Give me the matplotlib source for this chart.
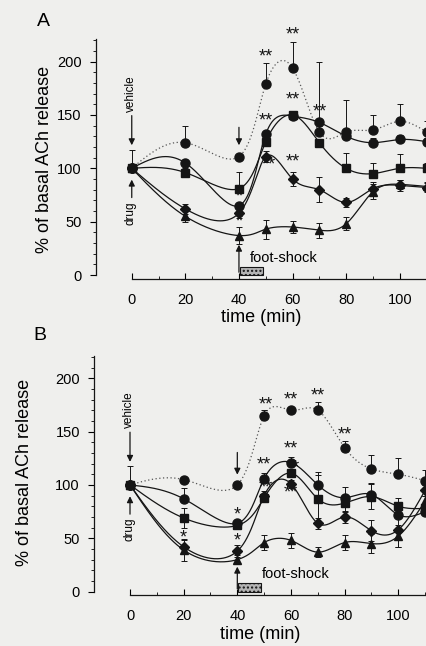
import numpy as np
import matplotlib
matplotlib.use("Agg")
import matplotlib.pyplot as plt
from matplotlib.patches import Rectangle
from matplotlib.ticker import FixedLocator

plt.rcParams["font.family"] = ["Liberation Sans", "DejaVu Sans"]

# sampling times (min)
time = [0, 20, 40, 50, 60, 70, 80, 90, 100, 110]

# panel A
a_veh = [100, 124, 111, 179, 194, 134, 134, 136, 144, 134]
a_circ = [100, 105, 65, 132, 149, 143, 130, 124, 127, 125]
a_sq = [100, 96, 81, 125, 150, 124, 100, 95, 100, 100]
a_dia = [100, 62, 58, 111, 90, 80, 68, 81, 84, 82]
a_tri = [100, 55, 37, 43, 45, 42, 48, 78, 85, 83]

a_veh_err = [17, 16, 0, 20, 24, 6, 30, 14, 16, 10]
a_circ_err = [0, 3, 0, 3, 0, 57, 5, 4, 4, 3]
a_sq_err = [0, 4, 16, 5, 0, 0, 14, 10, 13, 5]
a_dia_err = [0, 5, 5, 5, 7, 12, 4, 6, 5, 4]
a_tri_err = [0, 5, 8, 9, 6, 7, 6, 7, 4, 4]

# panel B
b_veh = [100, 105, 100, 165, 170, 170, 135, 115, 110, 104]
b_circ = [100, 87, 64, 106, 121, 100, 88, 91, 72, 75]
b_sq = [100, 69, 62, 88, 111, 87, 83, 89, 80, 78]
b_dia = [100, 42, 38, 90, 101, 64, 70, 57, 58, 95]
b_tri = [100, 39, 30, 46, 48, 37, 46, 45, 52, 85]

b_veh_err = [18, 0, 0, 5, 0, 8, 6, 13, 15, 10]
b_circ_err = [0, 10, 0, 5, 5, 12, 10, 11, 4, 4]
b_sq_err = [0, 9, 3, 4, 4, 22, 8, 12, 8, 5]
b_dia_err = [0, 6, 6, 4, 4, 5, 6, 10, 16, 5]
b_tri_err = [0, 10, 4, 7, 7, 5, 7, 9, 10, 5]

# significance marks (time, level, text)
a_stars = [(50, 204, "**"), (60, 225, "**"), (60, 164, "**"), (70, 153, "**"),
           (50, 144, "**"), (51, 103, "**"), (60, 106, "**"),
           (40, 73, "*"), (40, 50, "*")]
b_stars = [(50.5, 175, "**"), (60, 180, "**"), (70, 183, "**"), (80, 147, "**"),
           (50, 119, "**"), (60, 134, "**"), (60.5, 116, "**"), (50.5, 97, "**"),
           (60, 92, "**"), (40, 72, "*"), (40, 47, "*"), (20, 50, "*")]

bg = "#efefed"
ink = "#151515"


def nat_spline(t, v, ts):
    t = np.asarray(t, float)
    v = np.asarray(v, float)
    m = len(t)
    h = np.diff(t)
    A = np.zeros((m, m))
    r = np.zeros(m)
    A[0, 0] = A[-1, -1] = 1
    for i in range(1, m - 1):
        A[i, i - 1] = h[i - 1]
        A[i, i] = 2 * (h[i - 1] + h[i])
        A[i, i + 1] = h[i]
        r[i] = 3 * ((v[i + 1] - v[i]) / h[i] - (v[i] - v[i - 1]) / h[i - 1])
    c = np.linalg.solve(A, r)
    b = (v[1:] - v[:-1]) / h - h * (2 * c[:-1] + c[1:]) / 3
    d = (c[1:] - c[:-1]) / (3 * h)
    idx = np.clip(np.searchsorted(t, ts) - 1, 0, m - 2)
    dt = ts - t[idx]
    return v[idx] + b[idx] * dt + c[idx] * dt ** 2 + d[idx] * dt ** 3


def smooth(x, y, n=600):
    # parametric spline through the points, parameter = point index
    t = np.arange(len(x), dtype=float)
    ts = np.linspace(0, t[-1], n)
    return nat_spline(t, x, ts), nat_spline(t, y, ts)


def panel(ax, series, stars, xmax, arr40, shock_txt_x):
    for vals, err, mk, ms, dotted, mode in series:
        xs, ys = smooth(time, vals)
        if dotted:
            ax.plot(xs, ys, ls=(0, (1, 2)), lw=0.9, color="#555555", zorder=2)
        else:
            ax.plot(xs, ys, ls="-", lw=0.9, color=ink, zorder=2)
        yerr = [np.zeros(len(err)), err] if mode == "up" else err
        ax.errorbar(time, vals, yerr=yerr, fmt="none", ecolor=ink, elinewidth=0.7,
                    capsize=2.5, capthick=0.7, zorder=3)
        ax.plot(time, vals, ls="none", marker=mk, ms=ms, color=ink, zorder=4)

    for x, y, t in stars:
        ax.text(x, y, t, ha="center", va="center", fontsize=13, color=ink,
                clip_on=False, zorder=5)

    arrow = dict(arrowstyle="-|>", color=ink, lw=0.9, mutation_scale=9)
    # drug / vehicle arrows at t=0
    ax.annotate("", xy=(0, 119), xytext=(0, 152), arrowprops=arrow)
    ax.text(-0.3, 153, "vehicle", rotation=90, ha="center", va="bottom", fontsize=8.5)
    ax.annotate("", xy=(0, 92), xytext=(0, 70), arrowprops=arrow)
    ax.text(-0.3, 69, "drug", rotation=90, ha="center", va="top", fontsize=8.5)
    # arrows at t=40
    ax.annotate("", xy=(40, arr40[1]), xytext=(40, arr40[0]), arrowprops=arrow)
    ax.annotate("", xy=(40, arr40[2]), xytext=(40, 0), arrowprops=arrow)

    # foot-shock bar
    ax.add_patch(Rectangle((40.4, 0), 8.6, 7.8, facecolor="#b4b4b4", edgecolor=ink,
                           lw=0.8, hatch="....", zorder=3))
    ax.text(shock_txt_x, 12.5, "foot-shock", fontsize=10.5, ha="left", va="baseline")

    ax.set_facecolor(bg)
    ax.set_xlim(-13.6, xmax)
    ax.set_ylim(-5, 222)
    for s in ["top", "right"]:
        ax.spines[s].set_visible(False)
    ax.spines["left"].set_position(("data", -13.5))
    ax.spines["left"].set_bounds(0, 221)
    ax.spines["bottom"].set_position(("data", -3.5))
    ax.spines["bottom"].set_bounds(0, xmax)
    for s in ["left", "bottom"]:
        ax.spines[s].set_linewidth(0.9)
        ax.spines[s].set_color(ink)

    ax.set_yticks([0, 50, 100, 150, 200])
    ax.yaxis.set_minor_locator(FixedLocator(np.arange(10, 221, 10)))
    ax.set_xticks([0, 20, 40, 60, 80, 100])
    ax.xaxis.set_minor_locator(FixedLocator(np.arange(10, 111, 10)))
    ax.tick_params(axis="y", which="major", direction="out", length=4, width=0.8,
                   labelsize=10.5, pad=6)
    ax.tick_params(axis="y", which="minor", direction="out", length=2.5, width=0.6)
    ax.tick_params(axis="x", which="major", direction="in", length=4, width=0.8,
                   labelsize=10.5, pad=10)
    ax.tick_params(axis="x", which="minor", direction="in", length=2.5, width=0.6)
    ax.set_xlabel("time (min)", fontsize=13, labelpad=2)
    ax.set_ylabel("% of basal ACh release", fontsize=13)


fig = plt.figure(figsize=(4.27, 6.46), dpi=100)
fig.patch.set_facecolor(bg)

axA = fig.add_axes([0.2232, 0.566, 0.777, 0.375])
panel(axA, [(a_veh, a_veh_err, "o", 6.5, True, "up"),
            (a_circ, a_circ_err, "o", 6.5, False, "up"),
            (a_sq, a_sq_err, "s", 5.5, False, "up"),
            (a_dia, a_dia_err, "D", 5.5, False, "both"),
            (a_tri, a_tri_err, "^", 6, False, "both")],
      a_stars, 110.2, (141, 119, 31), 44)
axA.yaxis.set_label_coords(-0.1275, 0.5)

axB = fig.add_axes([0.219, 0.0759, 0.781, 0.375])
panel(axB, [(b_veh, b_veh_err, "o", 6.5, True, "up"),
            (b_circ, b_circ_err, "o", 6.5, False, "up"),
            (b_sq, b_sq_err, "s", 5.5, False, "both"),
            (b_dia, b_dia_err, "D", 5.5, False, "both"),
            (b_tri, b_tri_err, "^", 6, False, "both")],
      b_stars, 110.7, (133, 107, 26), 49)
axB.yaxis.set_label_coords(-0.181, 0.515)

fig.text(43 / 427, 1 - 22 / 646, "A", fontsize=14, ha="center", va="center")
fig.text(40 / 427, 1 - 336 / 646, "B", fontsize=14, ha="center", va="center")

fig.savefig("out.png", dpi=100, facecolor=bg)
